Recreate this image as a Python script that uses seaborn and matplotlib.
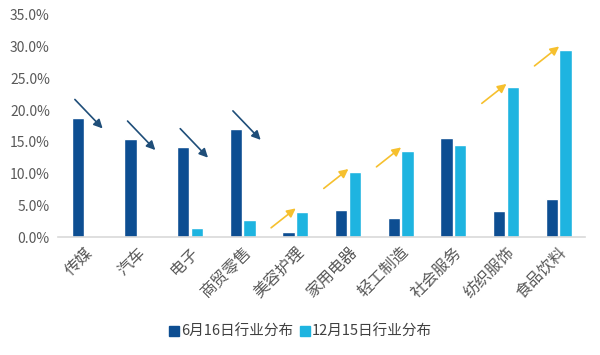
import pandas as pd
import seaborn as sns
import matplotlib.pyplot as plt
from matplotlib.lines import Line2D

categories = ["传媒", "汽车", "电子", "商贸零售", "美容护理", "家用电器", "轻工制造", "社会服务", "纺织服饰", "食品饮料"]
june = [18.8, 15.4, 14.2, 17.0, 0.8, 4.3, 3.0, 15.6, 4.1, 6.0]
dec = [0.0, 0.0, 1.4, 2.7, 4.0, 10.2, 13.6, 14.5, 23.6, 29.5]
series = ["6月16日行业分布", "12月15日行业分布"]
# arrow direction per category: -1 down, +1 up, 0 none
trend = [-1, -1, -1, -1, 1, 1, 1, 0, 1, 1]

colors = ["#0D4E92", "#1EB4E0"]

df = pd.DataFrame({
    "cat": categories * 2,
    "val": june + dec,
    "series": [series[0]] * len(categories) + [series[1]] * len(categories),
})

sns.set_theme(style="white")
plt.rcParams["font.family"] = ["Noto Sans CJK SC", "DejaVu Sans"]

fig = plt.figure(figsize=(6, 3.55), dpi=100)
ax = fig.add_axes([0.097, 0.332, 0.878, 0.626])

sns.barplot(data=df, x="cat", y="val", hue="series", hue_order=series,
            palette=colors, width=0.52, gap=0.1, ax=ax, legend=False,
            saturation=1)

ax.set_ylim(0, 35)
ax.set_xlim(-0.5, len(categories) - 0.5)
ax.set_yticks(range(0, 36, 5))
ax.set_yticklabels(["%.1f%%" % v for v in range(0, 36, 5)])
ax.set_xlabel("")
ax.set_ylabel("")
ax.tick_params(axis="both", length=0, colors="#595959", labelsize=10)
ax.tick_params(axis="y", pad=6)
ax.tick_params(axis="x", labelsize=11.5, pad=5)
plt.setp(ax.get_xticklabels(), rotation=45, ha="right", rotation_mode="anchor")
for s in ["top", "right", "left"]:
    ax.spines[s].set_visible(False)
ax.spines["bottom"].set_color("#D9D9D9")
ax.spines["bottom"].set_linewidth(1.2)

# trend arrows
for i, t in enumerate(trend):
    if t < 0:
        y0 = june[i]
        ax.annotate("", xy=(i + 0.38, y0 - 2.0), xytext=(i - 0.22, y0 + 3.2),
                    arrowprops=dict(arrowstyle="-|>", color="#1F4E79", lw=1.2,
                                    mutation_scale=13))
    elif t > 0:
        y0 = dec[i]
        ax.annotate("", xy=(i + 0.05, y0 + 0.8), xytext=(i - 0.5, y0 - 2.8),
                    arrowprops=dict(arrowstyle="-|>", color="#F6C02E", lw=1.2,
                                    mutation_scale=13))

handles = [Line2D([], [], marker="s", linestyle="", color=c, markersize=7) for c in colors]
fig.legend(handles, series, loc="center", bbox_to_anchor=(0.5, 0.065), ncol=2,
           frameon=False, handletextpad=0.1, columnspacing=0.4,
           labelcolor="#404040", fontsize=10.5, handlelength=0.8)

fig.savefig("out.png", dpi=100)
